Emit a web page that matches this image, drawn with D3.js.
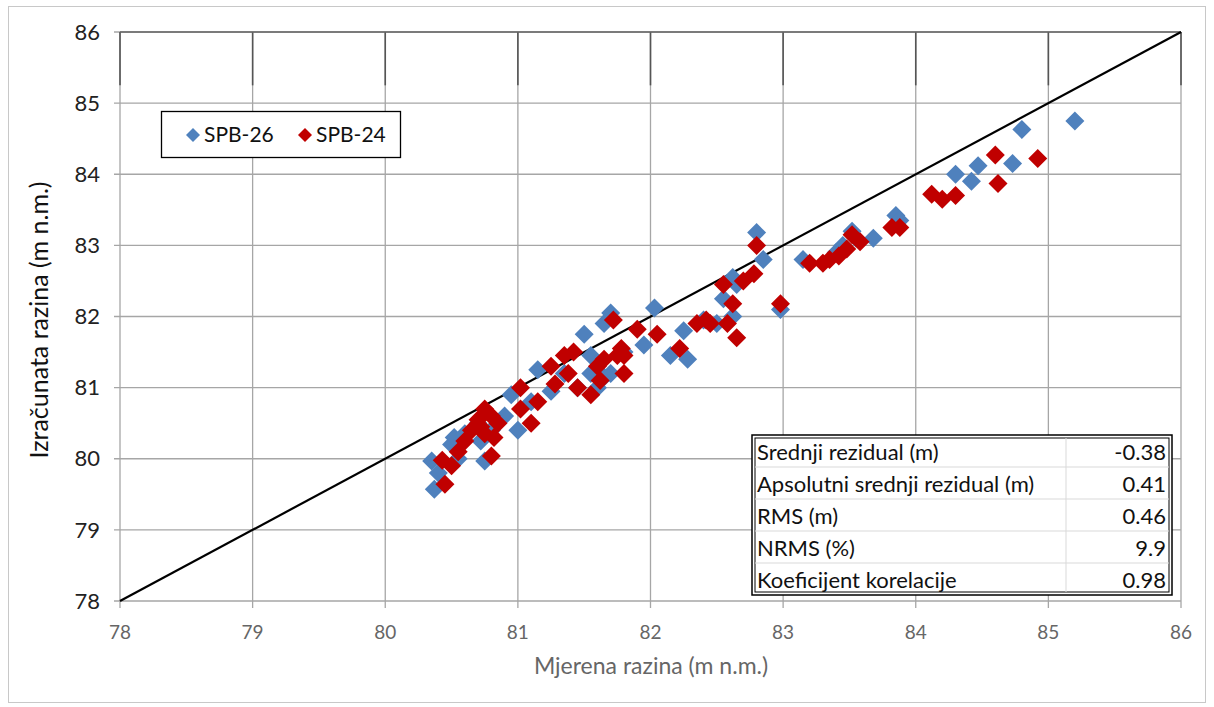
<!DOCTYPE html>
<html><head><meta charset="utf-8">
<script src="https://cdn.jsdelivr.net/npm/d3@7"></script>
<style>body{margin:0;background:#fff}svg{display:block}</style>
</head><body>
<svg id="c" width="1214" height="707"></svg>
<script>
const ticks = [78,79,80,81,82,83,84,85,86];
const seriesNames = ["SPB-26","SPB-24"];
const spb26x = [80.35,80.37,80.40,80.50,80.52,80.55,80.60,80.70,80.72,80.75,80.80,80.90,80.95,81.00,81.10,81.15,81.25,81.35,81.45,81.50,81.55,81.55,81.60,81.65,81.65,81.70,81.70,81.80,81.95,82.03,82.15,82.25,82.28,82.40,82.50,82.55,82.62,82.62,82.65,82.80,82.85,82.98,83.15,83.40,83.45,83.52,83.55,83.68,83.85,83.88,84.30,84.42,84.47,84.73,84.80,85.20];
const spb26y = [79.97,79.57,79.80,80.20,80.30,80.00,80.35,80.50,80.25,79.97,80.40,80.60,80.90,80.40,80.80,81.25,80.95,81.20,81.00,81.75,81.45,81.20,81.00,81.15,81.90,82.05,81.20,81.50,81.60,82.12,81.45,81.80,81.40,81.95,81.90,82.25,82.55,82.00,82.45,83.18,82.80,82.10,82.80,82.90,83.00,83.20,83.10,83.10,83.42,83.35,84.00,83.90,84.12,84.15,84.63,84.75];
const spb24x = [80.43,80.45,80.50,80.55,80.60,80.65,80.70,80.72,80.75,80.75,80.80,80.80,80.82,80.85,81.02,81.02,81.10,81.15,81.25,81.28,81.35,81.38,81.42,81.45,81.55,81.60,81.62,81.65,81.72,81.75,81.78,81.80,81.80,81.90,82.05,82.22,82.35,82.42,82.45,82.55,82.58,82.62,82.65,82.70,82.78,82.80,82.98,83.20,83.30,83.35,83.42,83.48,83.52,83.58,83.82,83.88,84.12,84.20,84.30,84.60,84.62,84.92];
const spb24y = [79.98,79.64,79.90,80.10,80.25,80.40,80.55,80.45,80.70,80.35,80.60,80.04,80.30,80.50,81.00,80.70,80.50,80.80,81.30,81.05,81.45,81.20,81.50,81.00,80.90,81.30,81.10,81.40,81.95,81.45,81.55,81.20,81.45,81.82,81.75,81.55,81.90,81.95,81.90,82.45,81.90,82.18,81.70,82.50,82.60,83.00,82.18,82.75,82.75,82.80,82.85,82.95,83.15,83.05,83.25,83.25,83.72,83.65,83.70,84.27,83.87,84.22];
const statLabels = ["Srednji rezidual (m)","Apsolutni srednji rezidual (m)","RMS (m)","NRMS (%)","Koeficijent korelacije"];
const statValues = ["-0.38","0.41","0.46","9.9","0.98"];
const colors = ["#4F81BD","#C00000"];

const svg = d3.select("#c");
const L=120,R=1181,T=32,B=601;
const x = d3.scaleLinear().domain([78,86]).range([L,R]);
const y = d3.scaleLinear().domain([78,86]).range([B,T]);
const font = "Lato, 'Open Sans', sans-serif";

// outer frame
svg.append("rect").attr("x",8.5).attr("y",6.5).attr("width",1197).attr("height",696)
  .attr("fill","#fff").attr("stroke","#c8c8c8").attr("stroke-width",1);

// grid
const g = svg.append("g");
g.selectAll(".vg").data(ticks).join("line")
  .attr("x1",d=>x(d)).attr("x2",d=>x(d)).attr("y1",T).attr("y2",B+7)
  .attr("stroke","#a6a6a6").attr("stroke-width",1.3);
g.selectAll(".hg").data(ticks).join("line")
  .attr("x1",L-6).attr("x2",R).attr("y1",d=>y(d)).attr("y2",d=>y(d))
  .attr("stroke","#a6a6a6").attr("stroke-width",1.3);
// darker strip artefact at top
g.selectAll(".vd").data(ticks).join("line")
  .attr("x1",d=>x(d)).attr("x2",d=>x(d)).attr("y1",T).attr("y2",y(85.25))
  .attr("stroke","#555").attr("stroke-width",1.6);
g.append("line").attr("x1",L).attr("x2",R).attr("y1",T).attr("y2",T).attr("stroke","#666").attr("stroke-width",1.6);

// axis labels
svg.append("g").selectAll("text").data(ticks).join("text")
  .attr("x",L-20).attr("y",d=>y(d)).attr("dy","0.35em").attr("text-anchor","end")
  .attr("font-family",font).attr("font-size",22).attr("fill","#222").text(d=>d);
svg.append("g").selectAll("text").data(ticks).join("text")
  .attr("x",d=>x(d)).attr("y",B+38).attr("text-anchor","middle")
  .attr("font-family",font).attr("font-size",19).attr("fill","#666").text(d=>d);
svg.append("text").attr("x",651).attr("y",674).attr("text-anchor","middle")
  .attr("font-family",font).attr("font-size",23).attr("fill","#666").text("Mjerena razina (m n.m.)");
svg.append("text").attr("transform",`translate(48,320) rotate(-90)`).attr("text-anchor","middle")
  .attr("font-family",font).attr("font-size",25).attr("fill","#111").text("Izračunata razina (m n.m.)");

// 1:1 line
svg.append("line").attr("x1",x(78)).attr("y1",y(78)).attr("x2",x(86)).attr("y2",y(86))
  .attr("stroke","#000").attr("stroke-width",2.2);

// points
const h=9.5;
const diamond = `M0,${-h}L${h},0L0,${h}L${-h},0Z`;
const d26 = spb26x.map((v,i)=>[v,spb26y[i]]);
const d24 = spb24x.map((v,i)=>[v,spb24y[i]]);
[d26,d24].forEach((data,k)=>{
  svg.append("g").selectAll("path").data(data).join("path")
    .attr("d",diamond).attr("transform",d=>`translate(${x(d[0])},${y(d[1])})`)
    .attr("fill",colors[k]);
});

// legend
const lg = svg.append("g");
lg.append("rect").attr("x",161.5).attr("y",111.5).attr("width",239).attr("height",46)
  .attr("fill","#fff").attr("stroke","#000").attr("stroke-width",1.3);
const lx=[193,305];
seriesNames.forEach((n,i)=>{
  const s=7;
  lg.append("path").attr("d",`M0,${-s}L${s},0L0,${s}L${-s},0Z`).attr("transform",`translate(${lx[i]},135)`).attr("fill",colors[i]);
  lg.append("text").attr("x",lx[i]+11).attr("y",135).attr("dy","0.35em")
    .attr("font-family",font).attr("font-size",21).attr("fill","#111").text(n);
});

// stats table
const tx=752,ty=435,tw=420,rh=32,cdiv=1066;
const tb = svg.append("g");
tb.append("rect").attr("x",tx).attr("y",ty).attr("width",tw).attr("height",rh*5)
  .attr("fill","#fff").attr("stroke","#000").attr("stroke-width",1.5);
tb.append("rect").attr("x",tx+3).attr("y",ty+3).attr("width",tw-6).attr("height",rh*5-6)
  .attr("fill","none").attr("stroke","#000").attr("stroke-width",1);
for(let i=1;i<5;i++) tb.append("line").attr("x1",tx+3).attr("x2",tx+tw-3).attr("y1",ty+i*rh).attr("y2",ty+i*rh).attr("stroke","#d9d9d9");
tb.append("line").attr("x1",cdiv).attr("x2",cdiv).attr("y1",ty+3).attr("y2",ty+rh*5-3).attr("stroke","#d9d9d9");
statLabels.forEach((s,i)=>{
  tb.append("text").attr("x",tx+5).attr("y",ty+i*rh+rh/2+1).attr("dy","0.35em")
    .attr("font-family",font).attr("font-size",22).attr("fill","#111").text(s);
  tb.append("text").attr("x",tx+tw-6).attr("y",ty+i*rh+rh/2+1).attr("dy","0.35em").attr("text-anchor","end")
    .attr("font-family",font).attr("font-size",22).attr("fill","#111").text(statValues[i]);
});
</script>
</body></html>
